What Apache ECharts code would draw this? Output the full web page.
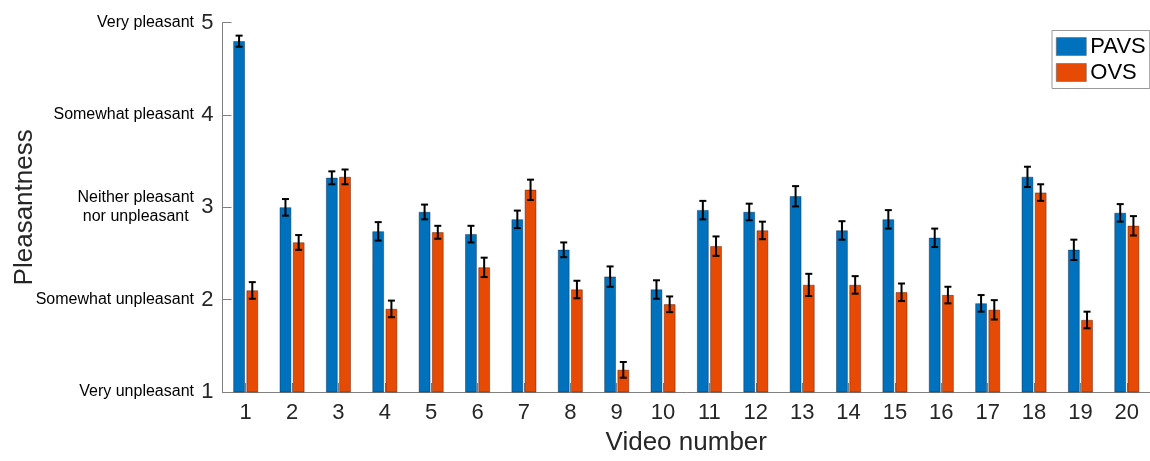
<!DOCTYPE html>
<html>
<head>
<meta charset="utf-8">
<script src="https://cdn.jsdelivr.net/npm/echarts@6/dist/echarts.min.js"></script>
<style>
  html, body { margin: 0; padding: 0; background: #fff; }
  #chart { width: 1150px; height: 461px; }
</style>
</head>
<body>
<div id="chart"></div>
<script>
// ---- data ----
const categories = ['1','2','3','4','5','6','7','8','9','10','11','12','13','14','15','16','17','18','19','20'];
const pavs    = [4.80, 3.00, 3.32, 2.74, 2.95, 2.71, 2.87, 2.54, 2.25, 2.11, 2.97, 2.95, 3.12, 2.75, 2.87, 2.67, 1.96, 3.33, 2.54, 2.94];
const pavsErr = [0.06, 0.09, 0.07, 0.10, 0.08, 0.09, 0.095, 0.08, 0.11, 0.10, 0.10, 0.09, 0.11, 0.10, 0.10, 0.10, 0.09, 0.11, 0.11, 0.095];
const ovs     = [2.10, 2.62, 3.33, 1.90, 2.73, 2.35, 3.19, 2.11, 1.24, 1.95, 2.58, 2.75, 2.16, 2.16, 2.08, 2.05, 1.89, 3.16, 1.78, 2.80];
const ovsErr  = [0.09, 0.08, 0.08, 0.09, 0.07, 0.105, 0.11, 0.095, 0.085, 0.085, 0.105, 0.095, 0.12, 0.095, 0.095, 0.09, 0.105, 0.09, 0.09, 0.105];
const yTickValues = [1, 2, 3, 4, 5];
const yTickDescriptors = ['Very unpleasant', 'Somewhat unpleasant', 'Neither pleasant\nnor unpleasant', 'Somewhat pleasant', 'Very pleasant'];

// ---- style constants ----
const BLUE = '#0072BD';
const ORANGE = '#E64A04';
const AXIS_GREY = '#808080';
const TEXT = '#262626';
const FONT = 'Liberation Sans, Arial, Helvetica, sans-serif';
const BAR_W = 11.5;
const BAR_GAP_PX = 1.7;
const OFFSET = (BAR_W + BAR_GAP_PX) / 2;

function errData(vals, errs) {
  return vals.map((v, i) => [i, v - errs[i], v + errs[i]]);
}

function errRender(dx) {
  return function (params, api) {
    const i = api.value(0);
    const lo = api.coord([i, api.value(1)]);
    const hi = api.coord([i, api.value(2)]);
    const x = lo[0] + dx;
    const cap = 3.5;
    const style = { stroke: '#000', lineWidth: 2, fill: null };
    return {
      type: 'group',
      children: [
        { type: 'line', shape: { x1: x, y1: lo[1], x2: x, y2: hi[1] }, style: style },
        { type: 'line', shape: { x1: x - cap, y1: lo[1], x2: x + cap, y2: lo[1] }, style: style },
        { type: 'line', shape: { x1: x - cap, y1: hi[1], x2: x + cap, y2: hi[1] }, style: style }
      ]
    };
  };
}

const chart = echarts.init(document.getElementById('chart'), null, { renderer: 'canvas' });
chart.setOption({
  animation: false,
  backgroundColor: '#fff',
  textStyle: { fontFamily: FONT },
  grid: { left: 222.5, top: 22.7, width: 935, height: 372.3, containLabel: false },
  legend: {
    orient: 'vertical',
    left: 1052,
    top: 30.5,
    padding: [5, 4, 5, 4],
    itemWidth: 30,
    itemHeight: 18,
    itemGap: 4,
    icon: 'rect',
    borderColor: '#999',
    borderWidth: 1,
    backgroundColor: '#fff',
    textStyle: { fontFamily: FONT, fontSize: 22, color: '#000', padding: [0, 0, 0, -1] },
    data: [
      { name: 'PAVS', itemStyle: { color: BLUE, borderColor: '#666', borderWidth: 0.6 } },
      { name: 'OVS', itemStyle: { color: ORANGE, borderColor: '#666', borderWidth: 0.6 } }
    ]
  },
  xAxis: {
    type: 'category',
    data: categories,
    name: 'Video number',
    nameLocation: 'middle',
    nameGap: 38,
    nameTextStyle: { fontFamily: FONT, fontSize: 26, color: TEXT },
    axisLine: { show: true, lineStyle: { color: AXIS_GREY, width: 1 } },
    axisTick: { show: true, inside: true, alignWithLabel: true, length: 9, lineStyle: { color: AXIS_GREY } },
    axisLabel: { fontFamily: FONT, fontSize: 22, color: TEXT, margin: 10 },
    splitLine: { show: false }
  },
  yAxis: [
    {
      type: 'value',
      min: 1,
      max: 5,
      interval: 1,
      name: 'Pleasantness',
      nameLocation: 'middle',
      nameRotate: 90,
      nameGap: 185,
      nameTextStyle: { fontFamily: FONT, fontSize: 26, color: TEXT },
      axisLine: { show: true, lineStyle: { color: AXIS_GREY, width: 1 } },
      axisTick: { show: true, inside: true, length: 9, lineStyle: { color: AXIS_GREY } },
      axisLabel: { fontFamily: FONT, fontSize: 22, color: TEXT, margin: 9 },
      splitLine: { show: false }
    },
    {
      type: 'value',
      position: 'left',
      min: 1,
      max: 5,
      interval: 1,
      axisLine: { show: false },
      axisTick: { show: false },
      splitLine: { show: false },
      axisLabel: {
        margin: 28.5,
        formatter: function (v) {
          const idx = yTickValues.indexOf(v);
          return idx >= 0 ? '{d|' + yTickDescriptors[idx] + '}' : '';
        },
        rich: { d: { fontFamily: FONT, fontSize: 16, color: '#000', align: 'center', lineHeight: 19 } }
      }
    }
  ],
  series: [
    {
      name: 'PAVS',
      type: 'bar',
      data: pavs,
      barWidth: BAR_W,
      barGap: (BAR_GAP_PX / BAR_W * 100).toFixed(1) + '%',
      itemStyle: { color: BLUE, borderColor: 'rgba(0,30,70,0.7)', borderWidth: 0.6 }
    },
    {
      name: 'OVS',
      type: 'bar',
      data: ovs,
      barWidth: BAR_W,
      itemStyle: { color: ORANGE, borderColor: 'rgba(70,20,0,0.7)', borderWidth: 0.6 }
    },
    {
      type: 'custom',
      renderItem: errRender(-OFFSET),
      data: errData(pavs, pavsErr),
      encode: { x: 0, y: [1, 2] },
      z: 10,
      silent: true
    },
    {
      type: 'custom',
      renderItem: errRender(OFFSET),
      data: errData(ovs, ovsErr),
      encode: { x: 0, y: [1, 2] },
      z: 10,
      silent: true
    }
  ]
});
</script>
</body>
</html>
